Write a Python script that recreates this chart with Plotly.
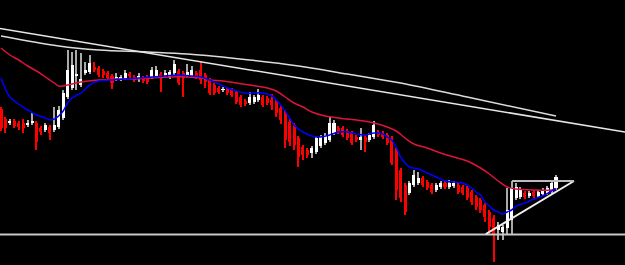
import plotly.graph_objects as go

# ---- candle data (price levels; axis is drawn top-down like the screen scale) ----
opens = [109,119,123,121,123,123,125,123,123,128,
         130,127,130,127,118,97,88,76,85,73,
         72,67,68,71,73,76,78,79,78,74,
         77,79,78,77,77,76,74,75,77,73,
         71,73,75,76,73,70,75,80,85,88,
         90,89,90,92,97,101,103,102,100,97,
         98,100,102,108,112,122,125,138,147,150,
         153,152,146,143,140,133,128,128,131,133,
         137,140,137,140,137,132,133,135,138,150,
         170,185,193,185,183,178,182,185,190,187,
         183,187,186,185,187,188,192,197,200,205,
         212,218,230,232,228,220,198,197,193,196,
         192,196,194,193,192,188]
closes = [128,128,121,126,127,128,123,121,142,132,
          125,133,125,110,93,70,65,74,79,70,
          63,70,75,75,78,83,77,77,73,76,
          80,76,81,82,70,70,78,73,72,64,
          83,78,72,70,77,80,82,93,93,92,
          89,93,95,102,105,104,97,97,95,105,
          103,105,113,120,140,142,145,157,155,155,
          148,138,137,135,123,123,132,135,138,143,
          140,137,142,135,125,135,137,143,163,190,
          198,212,183,175,178,185,188,192,185,183,
          187,183,183,192,193,198,202,207,210,217,
          227,235,225,227,210,188,187,190,197,193,
          196,192,190,188,183,177]
highs = [107,117,119,119,121,119,120,113,121,126,
         123,125,107,106,90,50,52,50,53,62,
         55,62,66,69,71,74,73,75,70,72,
         75,73,76,75,67,66,72,70,70,60,
         69,71,64,66,71,62,73,78,83,86,
         87,87,88,90,95,99,92,95,89,95,
         96,94,100,106,110,118,123,136,145,148,
         146,136,135,133,117,120,126,126,129,131,
         135,128,135,133,121,130,131,133,136,148,
         168,183,181,170,172,176,180,183,183,181,
         181,180,181,183,185,186,190,195,198,203,
         210,215,222,225,188,181,183,187,191,191,
         190,190,188,186,181,175]
lows = [131,133,125,128,130,133,127,125,150,135,
        132,140,132,129,120,99,90,90,87,75,
        74,72,77,78,80,89,81,81,80,79,
        82,82,83,84,79,78,92,77,79,75,
        85,97,77,78,79,84,88,95,95,94,
        92,95,97,104,107,106,105,104,102,107,
        105,110,117,124,148,146,150,167,160,158,
        158,154,148,145,142,135,134,137,140,145,
        142,150,152,142,139,137,139,145,165,200,
        202,215,195,187,185,187,190,194,192,189,
        189,189,188,194,195,200,205,210,213,222,
        235,262,240,240,234,234,200,199,199,198,
        198,198,196,195,194,190]

# ---- moving averages (bar index, level) ----
fast_ma_idx = [0,2,4,6,8,10,11,12,13,14,15,16,18,20,22,25,28,31,34,37,40,43,45,47,49,51,53,55,57,59,61,63,64,65,66,67,68,70,72,74,76,78,80,82,84,86,87,88,89,90,91,92,94,96,98,100,102,104,106,107,108,109,110,111,112,113,114,115,116,118,120,122,124,125]
fast_ma = [78,97,104,110,115,118,120,119,116,111,103,98,93,85,81,80,79,78,77,76,75,76,77,80,84,88,91,93,93,93,96,105,111,118,125,129,132,136,137,135,132,132,134,135,133,134,137,140,147,157,163,167,169,173,177,181,182,183,188,192,195,202,206,210,212,214,212,210,206,203,199,196,191,189]
slow_ma_idx = [0,2,4,6,8,10,12,13,14,16,18,22,26,30,34,38,42,45,47,50,53,56,60,62,64,66,68,70,73,76,80,84,87,89,91,93,96,99,102,105,108,110,112,114,116,120,124,125]
slow_ma = [48,55,60,66,71,77,83,86,86,84,82,80,79,79,78,77,77,78,80,81,83,85,88,91,97,103,107,112,116,118,120,123,127,131,138,144,148,153,157,161,168,174,181,187,189,190,190,189]
long_ma_idx = [0,13,22,33,42,56,67,78,90,105,125]
long_ma = [36,46,50,52,54,60,66,74,83,97,116]

# ---- drawn objects (bar index, level) ----
support_level = 234.5
trend_line = [(-0.225, 28.5), (140.54, 132.0)]
triangle_base = [(109.2, 234.0), (129.05, 181.0)]
triangle_top = [(115.1, 181.0), (129.05, 181.0)]

n = len(closes)
idx = list(range(n))
up = [c <= o for o, c in zip(opens, closes)]

body_base = [min(o, c) for o, c in zip(opens, closes)]
body_len = [max(abs(c - o), 1) for o, c in zip(opens, closes)]
wick_len = [l - h for h, l in zip(highs, lows)]

UP_BODY = "#ffffff"
UP_WICK = "#a9a9a9"
DN = "#ff0000"

fig = go.Figure()
fig.add_trace(go.Bar(x=idx, y=wick_len, base=highs, width=0.24,
                     marker=dict(color=[UP_WICK if u else DN for u in up], line_width=0),
                     hoverinfo="skip"))
fig.add_trace(go.Bar(x=idx, y=body_len, base=body_base, width=0.68,
                     marker=dict(color=[UP_BODY if u else DN for u in up], line_width=0),
                     hoverinfo="skip"))

fig.add_trace(go.Scatter(x=long_ma_idx, y=long_ma, mode="lines",
                         line=dict(color="#dcdcdc", width=1.5, shape="spline")))
fig.add_trace(go.Scatter(x=slow_ma_idx, y=slow_ma, mode="lines",
                         line=dict(color="#dc143c", width=1.5, shape="spline")))
fig.add_trace(go.Scatter(x=fast_ma_idx, y=fast_ma, mode="lines",
                         line=dict(color="#0000ff", width=1.5, shape="spline")))

shapes = [
    dict(type="line", xref="paper", x0=0, x1=1, yref="y", y0=support_level, y1=support_level,
         line=dict(color="#c8c8c8", width=2)),
    dict(type="line", xref="x", yref="y", x0=trend_line[0][0], y0=trend_line[0][1],
         x1=trend_line[1][0], y1=trend_line[1][1], line=dict(color="#e6e6e6", width=1.5)),
    dict(type="line", xref="x", yref="y", x0=triangle_base[0][0], y0=triangle_base[0][1],
         x1=triangle_base[1][0], y1=triangle_base[1][1], line=dict(color="#f0f0f0", width=2)),
    dict(type="line", xref="x", yref="y", x0=triangle_top[0][0], y0=triangle_top[0][1],
         x1=triangle_top[1][0], y1=triangle_top[1][1], line=dict(color="#bdbdbd", width=2)),
]

fig.update_layout(
    width=625, height=265,
    margin=dict(l=0, r=0, t=0, b=0),
    paper_bgcolor="#000000", plot_bgcolor="#000000",
    showlegend=False, bargap=0, barmode="overlay",
    shapes=shapes,
    xaxis=dict(range=[-0.225, 140.54], visible=False, showgrid=False, zeroline=False),
    yaxis=dict(range=[265, 0], visible=False, showgrid=False, zeroline=False),
)

fig.write_html("out.html")
